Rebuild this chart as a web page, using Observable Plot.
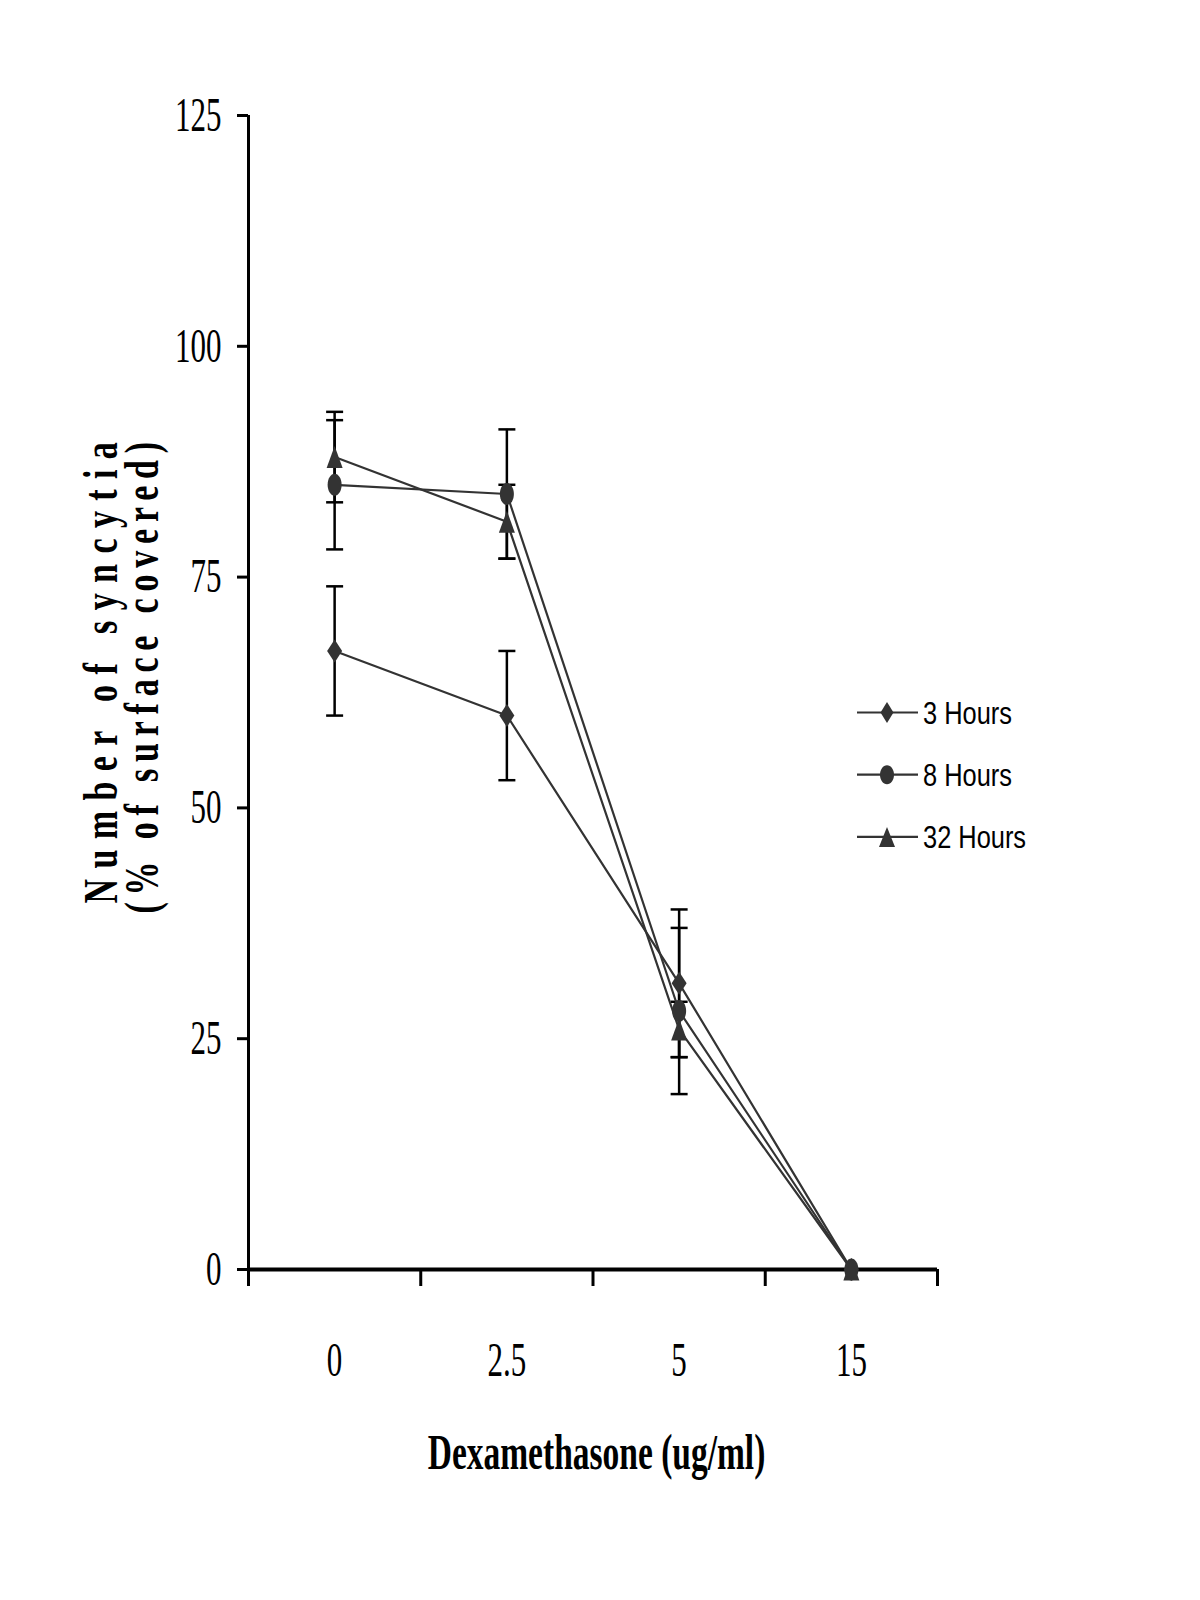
<!DOCTYPE html>
<html>
<head>
<meta charset="utf-8">
<script src="https://cdn.jsdelivr.net/npm/d3@7"></script>
<script src="https://cdn.jsdelivr.net/npm/@observablehq/plot@0.6"></script>
<style>
html, body { margin: 0; padding: 0; background: #fff; }
#wrap { position: relative; width: 1200px; height: 1600px; background: #fff; }
#wrap svg { position: absolute; left: 0; top: 0; }
</style>
</head>
<body>
<div id="wrap"></div>
<script>
// ---- data ----
const categories = ["0", "2.5", "5", "15"];
const seriesNames = ["3 Hours", "8 Hours", "32 Hours"];
const values3h = [67, 60, 31, 0];
const errors3h = [7, 7, 8, 0];
const values8h = [85, 84, 28, 0];
const errors8h = [7, 7, 9, 0];
const values32h = [88, 81, 26, 0];
const errors32h = [4.9, 4, 3, 0];
const yTicks = [0, 25, 50, 75, 100, 125];
const xTitle = "Dexamethasone (ug/ml)";
const yTitle1 = "Number of syncytia";
const yTitle2 = "(% of surface covered)";

// ---- table built from the arrays ----
const seriesValues = [values3h, values8h, values32h];
const seriesErrors = [errors3h, errors8h, errors32h];
const rows = [];
seriesNames.forEach((s, si) => categories.forEach((c, ci) => rows.push({
  series: s, si, cat: c, pos: ci + 0.5, value: seriesValues[si][ci], err: seriesErrors[si][ci]
})));
const errRows = rows.filter(d => d.err > 0);

// ---- custom (vertically elongated) marker shapes ----
function makeDiamond(w, h) {
  return {draw(ctx) { ctx.moveTo(0, -h / 2); ctx.lineTo(w / 2, 0); ctx.lineTo(0, h / 2); ctx.lineTo(-w / 2, 0); ctx.closePath(); }};
}
function makeEllipse(w, h) {
  const rx = w / 2, ry = h / 2, kx = rx * 0.5523, ky = ry * 0.5523;
  return {draw(ctx) {
    ctx.moveTo(rx, 0);
    ctx.bezierCurveTo(rx, ky, kx, ry, 0, ry);
    ctx.bezierCurveTo(-kx, ry, -rx, ky, -rx, 0);
    ctx.bezierCurveTo(-rx, -ky, -kx, -ry, 0, -ry);
    ctx.bezierCurveTo(kx, -ry, rx, -ky, rx, 0);
    ctx.closePath();
  }};
}
function makeTriangle(w, h) {
  return {draw(ctx) { ctx.moveTo(0, -h / 2); ctx.lineTo(w / 2, h / 2); ctx.lineTo(-w / 2, h / 2); ctx.closePath(); }};
}
const capSymbol = {draw(ctx) { ctx.moveTo(-8.5, 0); ctx.lineTo(8.5, 0); }};
const plotSymbols = [makeDiamond(15, 23), makeEllipse(14, 22), makeTriangle(16, 22)];
const legendSymbols = [makeDiamond(13, 21), makeEllipse(14, 19), makeTriangle(16, 20)];
const markColor = "#333333";

const serif = "'Liberation Serif', 'Times New Roman', serif";

const chart = Plot.plot({
  width: 1200,
  height: 1600,
  marginLeft: 248,
  marginRight: 263,
  marginTop: 115,
  marginBottom: 331,
  style: {background: "white", color: "black", fontFamily: serif},
  x: {domain: [0, categories.length]},
  y: {domain: [0, 125]},
  marks: [
    Plot.axisY({ticks: yTicks, tickSize: 11, tickPadding: 16, strokeWidth: 3, color: "black",
      fontSize: 31, fontFamily: serif, label: null, tickFormat: d => String(d)}),
    Plot.axisX({ticks: d3.range(categories.length + 1), tickSize: 17, strokeWidth: 3, color: "black",
      tickFormat: () => "", label: null}),
    Plot.axisX({ticks: categories.map((c, i) => i + 0.5), tickSize: 0, tickPadding: 72, color: "black",
      fontSize: 31, fontFamily: serif, label: null, tickFormat: d => categories[Math.floor(d)]}),
    Plot.ruleX([0], {y1: 0, y2: 125, stroke: "black", strokeWidth: 3}),
    Plot.ruleY([0], {x1: 0, x2: categories.length, stroke: "black", strokeWidth: 4}),
    Plot.ruleX(errRows, {x: "pos", y1: d => d.value - d.err, y2: d => d.value + d.err, stroke: "black", strokeWidth: 2.5}),
    Plot.dot(errRows, {x: "pos", y: d => d.value + d.err, symbol: capSymbol, r: 5, stroke: "black", fill: "none", strokeWidth: 2.5}),
    Plot.dot(errRows, {x: "pos", y: d => d.value - d.err, symbol: capSymbol, r: 5, stroke: "black", fill: "none", strokeWidth: 2.5}),
    Plot.line(rows, {x: "pos", y: "value", z: "series", stroke: markColor, strokeWidth: 2.2}),
    ...seriesNames.map((s, si) => Plot.dot(rows.filter(d => d.si === si), {
      x: "pos", y: "value", symbol: plotSymbols[si], r: 5, fill: markColor, stroke: "none"
    })),
    Plot.text([xTitle], {frameAnchor: "bottom", text: d => d, lineAnchor: "middle", textAnchor: "middle",
      dx: 3.5, dy: 183, fontSize: 33.5, fontWeight: "bold", fontFamily: serif, fill: "black", ariaLabel: () => "x title"}),
    Plot.text([yTitle1], {frameAnchor: "left", text: d => d, rotate: -90, textAnchor: "start", lineAnchor: "bottom",
      dx: -132, dy: 211, fontSize: 34, fontWeight: "bold", fontFamily: serif, fill: "black", ariaLabel: () => "y title 1"}),
    Plot.text([yTitle2], {frameAnchor: "left", text: d => d, rotate: -90, textAnchor: "start", lineAnchor: "bottom",
      dx: -91, dy: 221, fontSize: 34, fontWeight: "bold", fontFamily: serif, fill: "black", ariaLabel: () => "y title 2"})
  ]
});

// stretch glyphs vertically (the reference text is tall and narrow)
const stretch = {"y-axis tick label": 1.55, "x-axis tick label": 1.55, "x title": 1.5, "y title 1": 1.4, "y title 2": 1.4};
const spacing = {"y title 1": 10.4, "y title 2": 6.8};
chart.querySelectorAll("text").forEach(t => {
  let name = t.getAttribute("aria-label");
  if (!stretch[name]) {
    const g = t.closest("g[aria-label]");
    name = g ? g.getAttribute("aria-label") : null;
  }
  const k = stretch[name];
  if (!k) return;
  let tr = t.getAttribute("transform");
  if (!tr) {
    const x = +t.getAttribute("x") || 0, y = +t.getAttribute("y") || 0;
    tr = `translate(${x},${y})`;
    t.setAttribute("x", 0);
    t.removeAttribute("y");
  }
  t.setAttribute("transform", tr + ` scale(1,${k})`);
  if (spacing[name]) t.style.letterSpacing = spacing[name] + "px";
});

document.getElementById("wrap").appendChild(chart);

// ---- legend ----
const legend = d3.select("#wrap").append("svg")
  .attr("width", 1200).attr("height", 1600)
  .attr("viewBox", "0 0 1200 1600");
const legendTop = 712.5, legendGap = 62.2, legendLineX1 = 857, legendLineX2 = 918, legendMarkX = 887, legendTextX = 923;
seriesNames.forEach((s, i) => {
  const y = legendTop + i * legendGap;
  const g = legend.append("g");
  g.append("line").attr("x1", legendLineX1).attr("x2", legendLineX2).attr("y1", y).attr("y2", y)
    .attr("stroke", markColor).attr("stroke-width", 2.2);
  g.append("path").attr("d", d3.symbol(legendSymbols[i], 64)()).attr("transform", `translate(${legendMarkX},${y})`)
    .attr("fill", markColor);
  g.append("text").attr("transform", `translate(${legendTextX},${y}) scale(1,1.25)`)
    .attr("dy", "0.36em")
    .attr("font-family", "'Liberation Sans', Arial, sans-serif")
    .attr("font-size", 25.4)
    .attr("fill", "black")
    .text(s);
});
</script>
</body>
</html>
